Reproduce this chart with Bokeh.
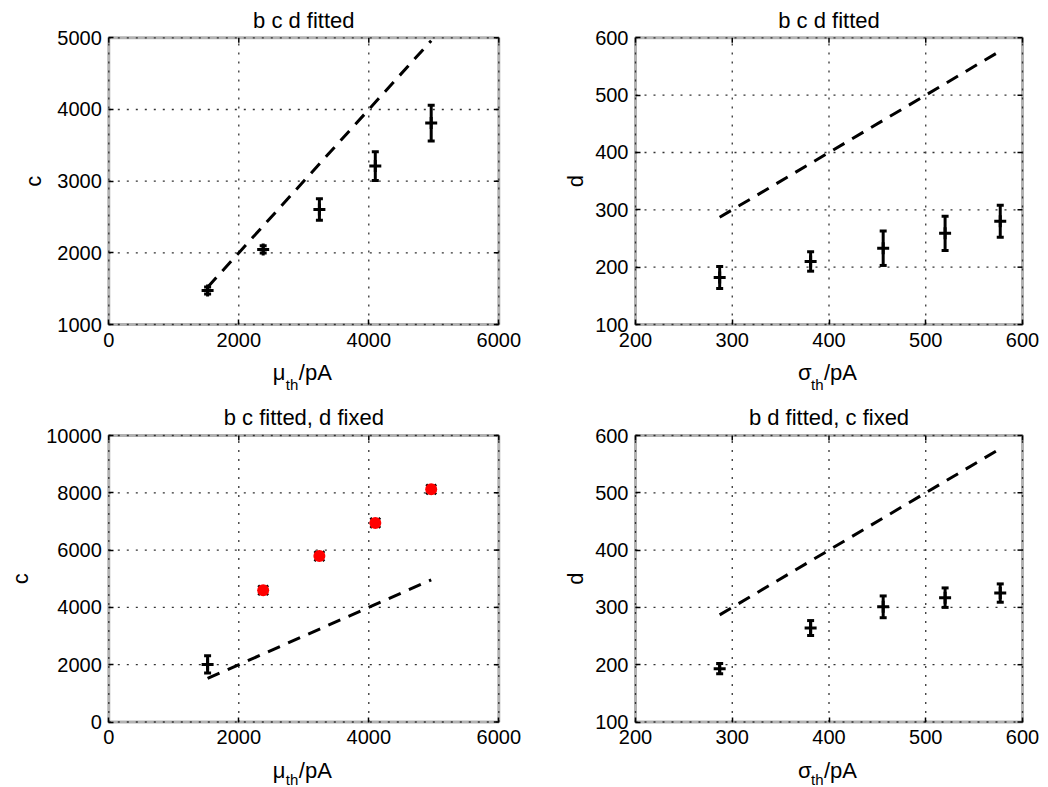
import math
from bokeh.plotting import figure
from bokeh.models import FixedTicker, Label, Range1d, BoxAnnotation
from bokeh.layouts import column, row
from bokeh.embed import file_html
from bokeh.resources import INLINE

# ---- data ----
mu_th = [1520, 2375, 3240, 4100, 4960]          # pA
sigma_th = [287, 381, 456, 520, 577]            # pA

c_bcd = [1474, 2047, 2605, 3210, 3810]
c_bcd_err = [50, 50, 150, 200, 250]
d_bcd = [182, 210, 233, 259, 280]
d_bcd_err = [19, 17, 30, 30, 28]

c_bc = [2010, 4600, 5790, 6950, 8120]
c_bc_err = [300, 0, 0, 0, 0]
c_bc_flagged = [False, True, True, True, True]

d_bd = [193, 264, 301, 317, 325]
d_bd_err = [9, 13, 19, 17, 16]

# identity reference line endpoints
ref_mu = [mu_th[0], mu_th[-1]]
ref_sigma = [sigma_th[0], sigma_th[-1]]

mu_ticks = [0, 2000, 4000, 6000]
sigma_ticks = [200, 300, 400, 500, 600]
c_ticks_top = [1000, 2000, 3000, 4000, 5000]
c_ticks_bot = [0, 2000, 4000, 6000, 8000, 10000]
d_ticks = [100, 200, 300, 400, 500, 600]

titles = ["b c d fitted", "b c d fitted", "b c fitted, d fixed", "b d fitted, c fixed"]

FONT = "Liberation Sans"
TICK_FS = "20px"
LABEL_FS = "22px"
SUB_FS = "15px"
TICK_LEN = 5

# ---- page geometry (pixels): figure cells and plot boxes ----
COL_X = [(0, 540), (540, 1046)]
ROW_Y = [(0, 394), (394, 787)]
BOX_X = [(108.3, 498.3), (635.0, 1022.0)]
BOX_Y = [(37.3, 324.0), (435.0, 721.5)]
TITLE_BASE = [20, 417]
XLAB_BASE = [372, 770]
XSUB_BASE = [384, 779]
YLAB_X = [[33.3, 575.0], [20.0, 575.0]]


def make_panel(r, c, xr, xticks, yr, yticks, title, ylabel, xsym):
    fx0, fx1 = COL_X[c]
    fy0, fy1 = ROW_Y[r]
    bx0, bx1 = BOX_X[c]
    by0, by1 = BOX_Y[r]
    kx = (xr[1] - xr[0]) / (bx1 - bx0)
    ky = (yr[1] - yr[0]) / (by1 - by0)
    x_range = Range1d(xr[0] - (bx0 - fx0) * kx, xr[1] + (fx1 - bx1) * kx)
    y_range = Range1d(yr[0] - (fy1 - by1) * ky, yr[1] + (by0 - fy0) * ky)
    W, H = fx1 - fx0, fy1 - fy0
    p = figure(width=W, height=H, x_range=x_range, y_range=y_range,
               min_border_left=0, min_border_right=0, min_border_top=0, min_border_bottom=0,
               output_backend="svg", toolbar_location=None, tools="")
    p.background_fill_color = "white"
    p.border_fill_color = "white"
    p.outline_line_color = None
    p.grid.visible = False

    # axes pinned to the edges of the plot box
    xa, ya = p.xaxis[0], p.yaxis[0]
    xa.fixed_location = yr[0]
    ya.fixed_location = xr[0]
    xa.bounds = tuple(xr)
    ya.bounds = tuple(yr)
    xa.ticker = FixedTicker(ticks=xticks)
    ya.ticker = FixedTicker(ticks=yticks)
    for ax in (xa, ya):
        ax.axis_line_color = None
        ax.major_tick_in = TICK_LEN
        ax.major_tick_out = 0
        ax.major_tick_line_width = 1.5
        ax.major_tick_line_color = "black"
        ax.minor_tick_line_color = None
        ax.major_label_text_font = FONT
        ax.major_label_text_font_size = TICK_FS
        ax.major_label_text_color = "black"
        ax.major_label_standoff = 7
    xa.major_label_standoff = 8

    # dotted grid, limited to the plot box
    nx, ny = len(xticks), len(yticks)
    p.segment(x0=xticks, y0=[yr[0]] * nx, x1=xticks, y1=[yr[1]] * nx,
              line_color="#333333", line_width=1.3, line_dash="2 7")
    p.segment(x0=[xr[0]] * ny, y0=yticks, x1=[xr[1]] * ny, y1=yticks,
              line_color="#333333", line_width=1.3, line_dash="2 7")
    # inward tick marks on the top and right edges (box on)
    p.segment(x0=xticks, y0=[yr[1]] * nx, x1=xticks, y1=[yr[1] - TICK_LEN * ky] * nx,
              line_color="black", line_width=1.5)
    p.segment(x0=[xr[1]] * ny, y0=yticks, x1=[xr[1] - TICK_LEN * kx] * ny, y1=yticks,
              line_color="black", line_width=1.5)

    # box
    p.add_layout(BoxAnnotation(left=xr[0], right=xr[1], bottom=yr[0], top=yr[1],
                               fill_color=None, line_color="black", line_width=3,
                               level="underlay"))

    def txt(px, py, text, size=LABEL_FS, align="left", angle=0.0):
        p.add_layout(Label(x=px - fx0, y=fy1 - py, x_units="screen", y_units="screen",
                           text=text, text_align=align, text_baseline="alphabetic",
                           angle=angle, text_font=FONT, text_font_size=size,
                           text_color="black"))

    cx = (bx0 + bx1) / 2
    txt(cx, TITLE_BASE[r], title, align="center")
    x0 = cx - 31
    txt(x0, XLAB_BASE[r], xsym)
    txt(x0 + 13, XSUB_BASE[r], "th", size=SUB_FS)
    txt(x0 + 26, XLAB_BASE[r], "/pA")
    txt(YLAB_X[r][c], (by0 + by1) / 2, ylabel, align="center", angle=math.pi / 2)
    return p


def errbars(p, xs, ys, es):
    xe = [x for x, e in zip(xs, es) if e > 0]
    ye = [y for y, e in zip(ys, es) if e > 0]
    ee = [e for e in es if e > 0]
    lo = [y - e for y, e in zip(ye, ee)]
    hi = [y + e for y, e in zip(ye, ee)]
    p.segment(x0=xe, y0=lo, x1=xe, y1=hi, line_color="black", line_width=3)
    p.scatter(xe + xe, lo + hi, marker="dash", size=7, line_color="black", line_width=3)
    p.scatter(xe, ye, marker="cross", size=12, line_color="black", line_width=3)


def refline(p, xs):
    p.line(xs, xs, line_color="black", line_width=3, line_dash="13 9")


p1 = make_panel(0, 0, (0, 6000), mu_ticks, (1000, 5000), c_ticks_top, titles[0], "c", "\u03bc")
refline(p1, ref_mu)
errbars(p1, mu_th, c_bcd, c_bcd_err)

p2 = make_panel(0, 1, (200, 600), sigma_ticks, (100, 600), d_ticks, titles[1], "d", "\u03c3")
refline(p2, ref_sigma)
errbars(p2, sigma_th, d_bcd, d_bcd_err)

p3 = make_panel(1, 0, (0, 6000), mu_ticks, (0, 10000), c_ticks_bot, titles[2], "c", "\u03bc")
refline(p3, ref_mu)
errbars(p3, mu_th, c_bc, c_bc_err)
rx = [x for x, f in zip(mu_th, c_bc_flagged) if f]
ry = [y for y, f in zip(c_bc, c_bc_flagged) if f]
p3.scatter(rx, ry, marker="x", size=14, line_color="black", line_width=2.5)
p3.scatter(rx, ry, marker="circle", size=12, fill_color="red", line_color=None)

p4 = make_panel(1, 1, (200, 600), sigma_ticks, (100, 600), d_ticks, titles[3], "d", "\u03c3")
refline(p4, ref_sigma)
errbars(p4, sigma_th, d_bd, d_bd_err)

layout = column(row(p1, p2, spacing=0), row(p3, p4, spacing=0), spacing=0)

open("out.html", "w").write(file_html(layout, INLINE))
